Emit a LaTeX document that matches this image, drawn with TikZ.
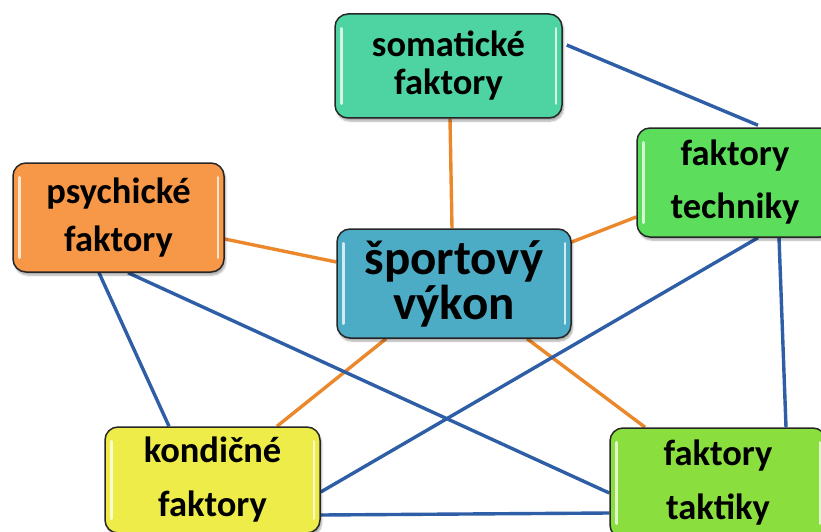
\documentclass[tikz,border=0pt]{standalone}
\usepackage{fontspec}
\setmainfont{Carlito}
\usetikzlibrary{shadows.blur,backgrounds}

\definecolor{somfill}{RGB}{78,212,162}
\definecolor{spofill}{RGB}{76,172,198}
\definecolor{techfill}{RGB}{92,222,92}
\definecolor{psyfill}{RGB}{247,152,72}
\definecolor{konfill}{RGB}{238,236,72}
\definecolor{takfill}{RGB}{138,222,62}
\definecolor{linkorange}{RGB}{236,136,44}
\definecolor{linkblue}{RGB}{46,94,166}

\tikzset{
  factor/.style={rounded corners=13pt, draw=black!85, line width=1.5pt,
    align=center, inner sep=0pt, font=\bfseries,
    blur shadow={shadow xshift=1.5pt, shadow yshift=-3pt, shadow blur steps=6, shadow opacity=35}},
  tie/.style={line width=3.4pt, linkorange},
  cross/.style={line width=3.4pt, linkblue},
  gloss/.style={white, line width=2.5pt, line cap=round, opacity=0.75}
}

% white sheen strips along the inner left and right edges of a box
\newcommand\glossbox[1]{%
  \draw[gloss] ([xshift=7pt,yshift=-15pt]#1.north west) -- ([xshift=7pt,yshift=15pt]#1.south west);
  \draw[gloss] ([xshift=-7pt,yshift=-15pt]#1.north east) -- ([xshift=-7pt,yshift=15pt]#1.south east);
}

\begin{document}
\begin{tikzpicture}[x=1pt,y=-1pt]
\useasboundingbox (0,0) rectangle (821,532);
\clip (0,0) rectangle (821,532);

% factor boxes
\node[factor, fill=somfill, minimum width=227pt, minimum height=104pt,
      font=\bfseries\fontsize{36.5}{38}\selectfont] (som) at (448.5,66) {somatické\\faktory};
\node[factor, fill=spofill, minimum width=234pt, minimum height=109pt,
      font=\bfseries\fontsize{49}{45}\selectfont] (spo) at (454,283.5) {športový\\výkon};
\node[factor, fill=techfill, minimum width=196pt, minimum height=109pt,
      font=\bfseries\fontsize{36.5}{53}\selectfont] (tech) at (735,182.5) {faktory\\techniky};
\node[factor, fill=psyfill, minimum width=211pt, minimum height=109pt,
      font=\bfseries\fontsize{36.5}{48}\selectfont] (psy) at (118.5,217.5) {psychické\\faktory};
\node[factor, fill=konfill, minimum width=215pt, minimum height=106pt,
      font=\bfseries\fontsize{36.5}{54}\selectfont] (kon) at (212.5,480) {kondičné\\faktory};
\node[factor, fill=takfill, minimum width=216pt, minimum height=110pt,
      font=\bfseries\fontsize{36.5}{54}\selectfont] (tak) at (718,483) {faktory\\taktiky};

\foreach \b in {som,spo,tech,psy,kon,tak} {\glossbox{\b}}

\begin{scope}[on background layer]
  % links of the central node
  \draw[tie] ([xshift=1.5pt]som.south) -- ([xshift=-2pt]spo.north);
  \draw[tie] ([yshift=-21.5pt]psy.east) -- ([yshift=21.5pt]spo.west);
  \draw[tie] ([yshift=41.5pt]spo.east) -- ([yshift=-34.5pt]tech.west);
  \draw[tie] ([xshift=-68pt]spo.south) -- ([xshift=64.5pt]kon.north);
  \draw[tie] ([xshift=73pt]spo.south) -- ([xshift=-73pt]tak.north);
  % links among the factors
  \draw[cross] ([xshift=4pt,yshift=21pt]som.east) -- ([xshift=23pt,yshift=2pt]tech.north);
  \draw[cross] ([xshift=-19.5pt]psy.south) -- ([xshift=-43.5pt]kon.north);
  \draw[cross] ([xshift=9.5pt]psy.south) -- ([yshift=-10pt]tak.west);
  \draw[cross] ([xshift=23pt]tech.south) -- ([yshift=-12pt]kon.east);
  \draw[cross] ([xshift=44pt]tech.south) -- ([xshift=68pt]tak.north);
  \draw[cross] ([yshift=-35pt]kon.east) -- ([yshift=-30pt]tak.west);
\end{scope}
\end{tikzpicture}
\end{document}
